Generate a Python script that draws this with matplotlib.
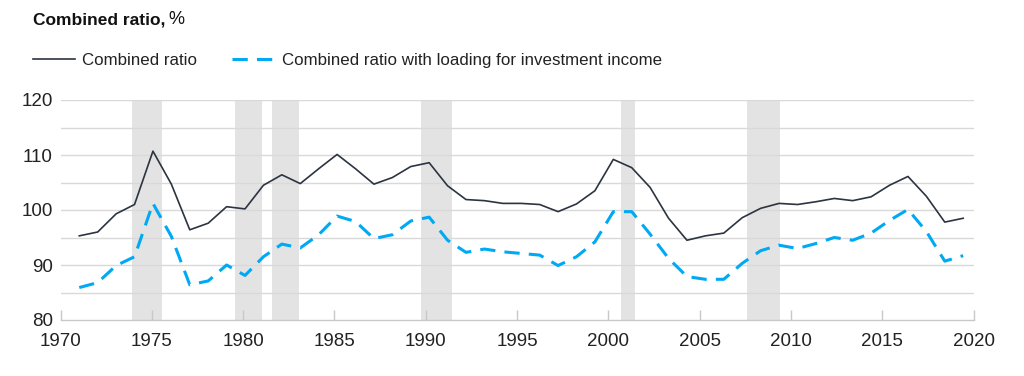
import numpy as np
import matplotlib
matplotlib.use("Agg")
import matplotlib.pyplot as plt
from matplotlib.lines import Line2D

plt.rcParams['font.family'] = ['Liberation Sans', 'DejaVu Sans']

# data
years = list(range(1971, 2020))
combined = [95.3, 96.0, 99.3, 101.0, 110.7, 104.7, 96.4, 97.6, 100.6, 100.2,
            104.5, 106.4, 104.8, 107.5, 110.1, 107.5, 104.7, 105.9, 107.9, 108.6,
            104.4, 101.9, 101.7, 101.2, 101.2, 101.0, 99.7, 101.1, 103.5, 109.2,
            107.7, 104.1, 98.5, 94.5, 95.3, 95.8, 98.6, 100.3, 101.2, 101.0,
            101.5, 102.1, 101.7, 102.4, 104.5, 106.1, 102.5, 97.8, 98.5]
loaded = [85.9, 86.8, 89.9, 91.5, 101.2, 95.2, 86.4, 87.1, 90.0, 88.1,
          91.5, 93.8, 93.1, 95.5, 98.9, 97.9, 94.8, 95.5, 98.0, 98.7,
          94.5, 92.3, 92.9, 92.4, 92.1, 91.8, 89.9, 91.5, 94.2, 99.7,
          99.7, 95.6, 91.2, 87.9, 87.4, 87.4, 90.3, 92.6, 93.6, 93.0,
          93.9, 95.0, 94.5, 95.8, 98.1, 100.1, 96.1, 90.7, 91.7]
# shaded periods (start, end) on the year axis
recessions = [(1973.93, 1975.58), (1979.56, 1981.05), (1981.57, 1983.06),
              (1989.74, 1991.42), (2000.70, 2001.47), (2007.58, 2009.41)]

x_ticks = [1970, 1975, 1980, 1985, 1990, 1995, 2000, 2005, 2010, 2015, 2020]
y_ticks = [80, 90, 100, 110, 120]

BLACK = '#2b3440'
BLUE = '#00a9f4'
GRID = '#d9d9d9'
BAND = '#e3e3e3'
TEXT = '#222222'

fig = plt.figure(figsize=(10.24, 3.76), dpi=100)
ax = fig.add_axes([60.5 / 1024, 56 / 376, 913 / 1024, 220 / 376])

ax.set_xlim(1970, 2020)
ax.set_ylim(80, 120)
for a, b in recessions:
    ax.axvspan(a, b, color=BAND, lw=0, zorder=0)

# grid every 5, labels every 10
for v in np.arange(85, 121, 5):
    ax.axhline(v, color=GRID, lw=1.0, zorder=1)

ax.set_xticks(x_ticks)
ax.set_yticks(y_ticks)
ax.tick_params(axis='x', direction='in', length=7, width=1, color='#c8c8c8',
               labelsize=13.5, labelcolor=TEXT, pad=9)
ax.tick_params(axis='y', length=0, labelsize=13.5, labelcolor=TEXT, pad=5.5)
for s in ['top', 'right', 'left']:
    ax.spines[s].set_visible(False)
ax.spines['bottom'].set_color('#c8c8c8')
ax.spines['bottom'].set_linewidth(1.0)

# the series sit on a slightly stretched year scale in the original
ax2 = ax.twiny()
ax2.set_xlim(1969.98, 2019.56)
ax2.axis('off')
ax2.plot(years, combined, color=BLACK, lw=1.2, zorder=3)
ax2.plot(years, loaded, color=BLUE, lw=2.2, linestyle=(0, (5, 3)),
         dash_capstyle='butt', zorder=3)

title = fig.text(33 / 1024, 1 - 20 / 376, 'Combined ratio,', fontsize=12.5,
                 fontweight='bold', color='#111111', va='center', ha='left')
ax.annotate('%', xy=(1, 0.5), xycoords=title, xytext=(2.5, 0),
            textcoords='offset points', fontsize=13, color='#111111',
            va='center', ha='left', annotation_clip=False)

handles = [Line2D([], [], color=BLACK, lw=1.2),
           Line2D([], [], color=BLUE, lw=2.2, linestyle=(0, (5, 3)))]
labels = ['Combined ratio', 'Combined ratio with loading for investment income']
fig.legend(handles, labels, loc='center left',
           bbox_to_anchor=(33 / 1024, 1 - 60.5 / 376), ncol=2, frameon=False,
           borderpad=0, borderaxespad=0,
           fontsize=12.2, handlelength=2.5, handletextpad=0.42,
           columnspacing=2.05, labelcolor=TEXT)

fig.savefig('out.png', dpi=100)
